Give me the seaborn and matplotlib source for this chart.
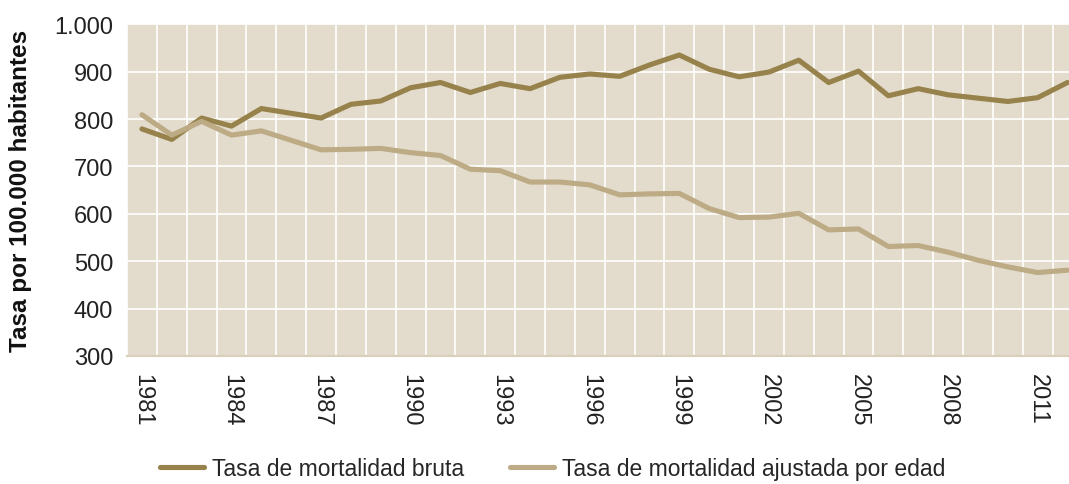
import numpy as np
import pandas as pd
import matplotlib
matplotlib.use("Agg")
import matplotlib.pyplot as plt
import seaborn as sns
from matplotlib.ticker import FixedLocator, FuncFormatter

# ==================================
# DATA
# ==================================

years = list(range(1981, 2013))

bruta = [779, 757, 802, 785, 822, 812, 802, 831, 838, 866,
         877, 856, 875, 864, 888, 895, 890, 914, 935, 905,
         889, 899, 924, 877, 901, 849, 864, 851, 844, 837,
         845, 877]

ajustada = [809, 766, 795, 766, 775, 755, 735, 736, 738, 729,
            723, 694, 691, 667, 667, 661, 640, 642, 643, 611,
            592, 593, 601, 566, 568, 531, 533, 519, 502, 488,
            476, 481]

series_names = ["Tasa de mortalidad bruta", "Tasa de mortalidad ajustada por edad"]
colors = ["#97824b", "#bcab85"]

y_ticks = [300, 400, 500, 600, 700, 800, 900, 1000]
x_label_years = list(range(1981, 2012, 3))

df = pd.DataFrame({
    "year": years * 2,
    "value": bruta + ajustada,
    "serie": [series_names[0]] * len(years) + [series_names[1]] * len(years),
})

# ==================================
# PLOT
# ==================================

sns.set_style("white")
plt.rcParams["font.family"] = ["Liberation Sans", "DejaVu Sans"]

fig = plt.figure(figsize=(10.69, 4.85), dpi=100)
ax = fig.add_axes([0.1188, 0.264, 0.8812, 0.684])

sns.lineplot(
    data=df,
    x="year",
    y="value",
    hue="serie",
    palette=colors,
    linewidth=3.7,
    ax=ax,
    legend=True,
)

ax.set_facecolor("#e3dccd")
ax.set_xlim(1980.5, 2012.05)
ax.set_ylim(300, 1000)

ax.xaxis.set_major_locator(FixedLocator(x_label_years))
ax.xaxis.set_minor_locator(FixedLocator(np.arange(1980.5, 2013, 1)))
ax.yaxis.set_major_locator(FixedLocator(y_ticks))
ax.yaxis.set_major_formatter(
    FuncFormatter(lambda v, p: f"{int(v):,}".replace(",", "."))
)

ax.grid(which="minor", axis="x", color="white", linewidth=1.2)
ax.grid(which="major", axis="y", color="white", linewidth=1.2)
ax.set_axisbelow(True)

for lbl in ax.get_xticklabels():
    lbl.set_rotation(-90)
ax.tick_params(axis="x", which="both", length=0, labelsize=17, pad=12,
               colors="#222222")
ax.tick_params(axis="y", length=0, labelsize=17, pad=10, colors="#222222")

for s in ["top", "right", "left"]:
    ax.spines[s].set_visible(False)
ax.spines["bottom"].set_color("#d9cfbb")
ax.spines["bottom"].set_linewidth(1.5)

ax.set_xlabel("")
ax.set_ylabel("Tasa por 100.000 habitantes", fontsize=17.5, fontweight="bold",
              color="#111111", labelpad=16)

handles, labels = ax.get_legend_handles_labels()
ax.legend_.remove()
fig.legend(
    handles, labels,
    loc="center", bbox_to_anchor=(0.517, 0.032),
    ncol=2, frameon=False, fontsize=16.5,
    handlelength=1.9, handletextpad=0.35, columnspacing=2.0,
)

plt.savefig("out.png", dpi=100)
